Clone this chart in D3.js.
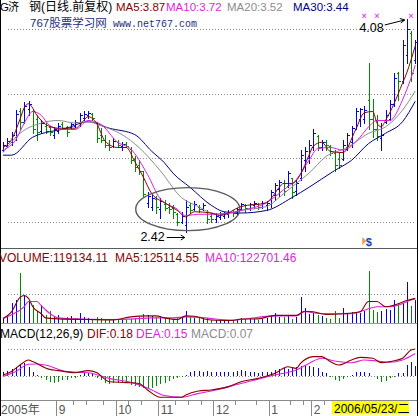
<!DOCTYPE html>
<html>
<head>
<meta charset="utf-8">
<script src="https://cdn.jsdelivr.net/npm/d3@7"></script>
<style>
  html, body { margin: 0; padding: 0; background: #fff; }
  svg { display: block; font-family: "Liberation Sans", Arial, "Noto Sans CJK SC", sans-serif; }
</style>
</head>
<body>
<svg id="chart" width="419" height="416"></svg>
<script>
// ---- daily bars: open / high / low / close ----
const opens  = [3.06,3.09,3.12,3.16,3.36,3.28,3.38,3.36,3.30,3.21,3.25,3.24,3.18,3.21,3.26,3.24,3.24,3.25,3.27,3.31,
                3.33,3.34,3.27,3.18,3.14,3.10,3.09,3.12,3.09,3.11,3.07,2.99,2.94,2.90,2.65,2.62,2.68,2.60,2.64,2.62,
                2.61,2.56,2.50,2.48,2.63,2.60,2.62,2.60,2.58,2.55,2.52,2.54,2.55,2.56,2.58,2.57,2.60,2.63,2.61,2.63,
                2.64,2.62,2.63,2.64,2.71,2.76,2.80,2.78,2.84,2.74,2.84,2.98,3.00,3.08,3.17,3.08,3.12,3.09,3.04,2.99,
                2.99,3.08,3.12,3.22,3.30,3.30,3.45,3.30,3.22,3.15,3.28,3.30,3.42,3.66,3.60,3.80,3.97,3.76];
const highs  = [3.12,3.15,3.20,3.37,3.39,3.43,3.44,3.37,3.33,3.29,3.27,3.25,3.24,3.27,3.28,3.25,3.27,3.29,3.35,3.36,
                3.36,3.35,3.28,3.23,3.18,3.14,3.15,3.14,3.12,3.12,3.08,3.01,2.98,2.90,2.73,2.71,2.70,2.69,2.67,2.65,
                2.63,2.57,2.58,2.67,2.65,2.66,2.63,2.65,2.59,2.57,2.57,2.58,2.58,2.59,2.59,2.61,2.65,2.64,2.65,2.66,
                2.65,2.66,2.66,2.75,2.80,2.83,2.83,2.90,2.84,2.83,3.06,3.08,3.14,3.22,3.18,3.14,3.14,3.10,3.06,3.04,
                3.14,3.19,3.25,3.39,3.39,3.40,3.74,3.46,3.33,3.27,3.37,3.45,3.66,3.67,3.92,4.08,3.99,3.92];
const lows   = [3.05,3.08,3.10,3.14,3.22,3.27,3.33,3.19,3.14,3.19,3.19,3.18,3.15,3.19,3.22,3.17,3.23,3.24,3.25,3.29,
                3.31,3.29,3.12,3.12,3.08,3.06,3.08,3.08,3.06,3.08,2.96,2.90,2.87,2.70,2.62,2.59,2.57,2.53,2.59,2.57,
                2.53,2.48,2.49,2.42,2.57,2.59,2.58,2.59,2.49,2.50,2.50,2.52,2.53,2.54,2.55,2.56,2.59,2.58,2.59,2.61,
                2.60,2.61,2.59,2.62,2.67,2.70,2.71,2.77,2.69,2.71,2.83,2.90,2.96,3.06,3.06,3.06,3.06,3.02,2.90,2.92,
                2.98,3.06,3.08,3.22,3.25,3.27,3.22,3.16,3.14,3.06,3.27,3.29,3.40,3.45,3.58,3.74,3.60,3.74];
const closes = [3.10,3.13,3.18,3.34,3.28,3.40,3.42,3.22,3.20,3.27,3.21,3.20,3.22,3.25,3.23,3.20,3.26,3.28,3.33,3.34,
                3.35,3.31,3.15,3.14,3.10,3.08,3.13,3.10,3.11,3.09,2.98,2.93,2.90,2.72,2.70,2.69,2.62,2.66,2.61,2.60,
                2.58,2.50,2.55,2.62,2.59,2.64,2.60,2.63,2.52,2.52,2.55,2.56,2.57,2.58,2.57,2.60,2.64,2.61,2.64,2.65,
                2.62,2.65,2.65,2.73,2.79,2.81,2.74,2.88,2.73,2.80,3.02,3.05,3.10,3.19,3.08,3.12,3.10,3.04,2.94,2.94,
                3.10,3.18,3.23,3.36,3.38,3.37,3.30,3.22,3.17,3.18,3.33,3.42,3.62,3.60,3.88,4.00,3.66,3.90];

// ---- daily volume ----
const volumes = [26000,41000,100000,119000,255000,140000,114000,93000,62000,93000,41000,62000,36000,41000,26000,31000,36000,26000,52000,31000,
                 26000,21000,31000,26000,21000,16000,16000,15000,16000,14000,21000,26000,31000,47000,41000,36000,31000,36000,26000,26000,
                 21000,26000,26000,62000,31000,26000,31000,26000,26000,16000,15000,16000,11000,15000,11000,16000,26000,21000,26000,21000,
                 16000,21000,26000,36000,52000,31000,31000,36000,21000,31000,130000,78000,47000,52000,41000,36000,26000,21000,62000,26000,
                 78000,47000,57000,57000,52000,62000,265000,67000,57000,62000,72000,67000,119000,104000,104000,207000,88000,119134.11];

// ---- moving averages of price: [bar index, value] ----
const ma5Pts  = [[0,3.08],[2,3.14],[4,3.30],[5,3.39],[6,3.42],[8,3.33],[10,3.26],[13,3.23],[17,3.23],[19,3.29],[20,3.32],[22,3.27],
                 [24,3.13],[27,3.08],[29,3.08],[31,2.97],[33,2.85],[35,2.72],[38,2.65],[41,2.59],[43,2.54],[45,2.58],[49,2.57],[51,2.55],
                 [56,2.62],[62,2.65],[63,2.68],[65,2.77],[66,2.80],[68,2.80],[70,2.87],[72,3.02],[73,3.09],[75,3.12],[77,3.05],[80,3.04],
                 [83,3.22],[85,3.35],[87,3.36],[88,3.27],[89,3.24],[90,3.29],[92,3.42],[94,3.58],[95,3.66],[96,3.76],[97,3.87]];
const ma10Pts = [[0,3.06],[3,3.14],[5,3.27],[7,3.36],[9,3.33],[11,3.25],[14,3.22],[17,3.22],[20,3.29],[23,3.26],[27,3.12],[30,3.07],
                 [34,2.87],[37,2.68],[41,2.60],[43,2.55],[46,2.56],[49,2.56],[53,2.57],[56,2.59],[62,2.65],[66,2.75],[69,2.83],[72,2.98],
                 [74,3.07],[77,3.08],[80,3.06],[84,3.16],[86,3.24],[88,3.29],[91,3.29],[94,3.45],[96,3.62],[97,3.72]];
const ma20Pts = [[0,3.04],[4,3.19],[9,3.27],[13,3.29],[17,3.27],[20,3.28],[23,3.25],[28,3.18],[32,3.08],[37,2.90],[42,2.69],[46,2.62],
                 [49,2.57],[52,2.56],[56,2.59],[62,2.62],[66,2.72],[69,2.80],[72,2.88],[76,3.01],[81,3.08],[86,3.19],[90,3.24],[94,3.37],[97,3.52]];
const ma30Pts = [[0,3.02],[2,3.02],[7,3.16],[15,3.23],[20,3.28],[25,3.23],[31,3.18],[35,3.05],[38,2.96],[40,2.88],[44,2.77],[49,2.63],
                 [52,2.58],[56,2.57],[62,2.59],[68,2.69],[72,2.77],[78,2.90],[82,2.98],[86,3.11],[90,3.19],[94,3.28],[97,3.44]];

// ---- moving averages of volume ----
const volMa5Pts  = [[0,23000],[2,57000],[4,130000],[5,140000],[6,125000],[7,83000],[9,47000],[10,26000],[13,21000],[20,18000],[26,16000],
                    [30,31000],[34,36000],[36,36000],[38,26000],[41,18000],[43,36000],[45,34000],[48,18000],[50,14000],[54,13000],[56,20000],
                    [60,21000],[64,39000],[69,39000],[71,60000],[73,57000],[76,44000],[80,47000],[84,57000],[86,109000],[88,109000],[90,83000],
                    [92,91000],[95,114000],[97,125114.55]];
const volMa10Pts = [[0,23000],[2,42000],[5,83000],[6,109000],[8,109000],[9,88000],[11,49000],[13,26000],[16,21000],[25,18000],[31,21000],
                    [35,26000],[40,26000],[43,31000],[47,28000],[50,20000],[54,15000],[56,18000],[64,36000],[69,36000],[71,57000],[75,47000],
                    [82,47000],[85,65000],[88,83000],[91,83000],[93,91000],[96,117000],[97,122701.46]];

// ---- MACD(12,26,9) ----
const difPts = [[0,0.007],[2,0.03],[4,0.073],[6,0.107],[7,0.096],[11,0.044],[13,0.036],[17,0.022],[20,0.036],[22,0.024],[25,-0.038],
                [29,-0.044],[32,-0.05],[34,-0.093],[37,-0.142],[42,-0.142],[43,-0.127],[46,-0.10],[49,-0.093],[53,-0.071],[56,-0.038],
                [60,-0.016],[64,0.018],[67,0.062],[69,0.051],[70,0.084],[73,0.129],[75,0.129],[77,0.096],[79,0.073],[82,0.107],[84,0.124],
                [87,0.118],[89,0.089],[91,0.096],[94,0.118],[96,0.173],[97,0.18]];
const deaPts = [[0,-0.004],[3,0.03],[6,0.078],[8,0.08],[10,0.073],[15,0.029],[20,0.022],[25,-0.016],[31,-0.049],[35,-0.093],[38,-0.13],
                [42,-0.142],[46,-0.116],[49,-0.10],[56,-0.05],[64,0.007],[69,0.04],[72,0.084],[75,0.118],[78,0.10],[82,0.088],[85,0.107],
                [88,0.10],[91,0.092],[94,0.107],[97,0.15]];
const macdBars = [0.030,0.036,0.050,0.062,0.073,0.084,0.062,0.029,0.007,-0.010,
                  -0.027,-0.038,-0.044,-0.038,-0.027,-0.027,-0.016,-0.012,0.010,0.018,
                  0.022,0.018,-0.010,-0.027,-0.044,-0.053,-0.049,-0.044,-0.038,-0.044,
                  -0.060,-0.067,-0.071,-0.078,-0.082,-0.078,-0.067,-0.056,-0.044,-0.031,
                  -0.022,-0.016,-0.009,0.007,0.029,0.036,0.036,0.029,0.036,0.024,
                  0.024,0.029,0.024,0.029,0.029,0.033,0.040,0.036,0.029,0.024,
                  0.022,0.024,0.024,0.029,0.040,0.044,0.051,0.044,0.051,0.058,
                  0.067,0.073,0.067,0.062,0.051,0.029,0.018,-0.009,-0.027,-0.031,
                  -0.022,-0.009,0.007,0.024,0.029,0.029,0.022,0.000,-0.022,-0.038,
                  -0.031,-0.016,-0.009,0.018,0.022,0.073,0.093,0.07];

// ---- reference levels and time axis ----
const priceLevels = [2.5, 3.0, 3.5, 4.0];
const volLevels = [150000];
const macdLevels = [0.18, 0];
const yearLabel = "2005年";
const monthTicks = [[12.5,"9"],[26.5,"10"],[36.5,"11"],[49.5,"12"],[62.5,"1"],[72.5,"2"]];
const weekTicks = [16.5,19.5,23.5,29.5,32.5,40.5,43.5,46.5,54.5,59.5,67.5,70.5,75.5];
const cursorDate = "2006/05/23/二";
const signalBars = [85, 88, 96];
const infoBar = 85;

// ---- drawing ----
const BLUE = "#0000ee", GREEN = "#008a00";
const C_MA5 = "#8b0000", C_MA10 = "#e01ee0", C_MA20 = "#8c8c8c", C_MA30 = "#000080";
const f2 = d3.format(".2f");
const svg = d3.select("#chart");
const N = closes.length;

const x = d3.scaleLinear().domain([0, N - 1]).range([3, 415.25]);
const yPrice = d3.scaleLinear().domain([2.5, 4.0]).range([222, 29.25]);
const yVol = d3.scaleLinear().domain([0, 150000]).range([323, 293.5]);
const yMacd = d3.scaleLinear().domain([0, 0.18]).range([376, 349]);
const sx = i => Math.round(x(i)) + 0.5;
const sy = v => Math.round(v) + 0.5;

svg.append("rect").attr("width", 419).attr("height", 416).attr("fill", "#fff");

// dotted reference lines
const grid = svg.append("g").attr("stroke", "#8a8a8a").attr("stroke-dasharray", "1,2").attr("shape-rendering", "crispEdges");
const hline = (g, y) => g.append("line").attr("x1", 8).attr("x2", 414).attr("y1", sy(y)).attr("y2", sy(y));
priceLevels.forEach(p => hline(grid, yPrice(p)));
volLevels.forEach(v => hline(grid, yVol(v)));
macdLevels.forEach(v => hline(grid, yMacd(v)));

// panel separators and frame
const frame = svg.append("g").attr("shape-rendering", "crispEdges");
frame.append("line").attr("x1", 0).attr("x2", 418).attr("y1", 248.5).attr("y2", 248.5).attr("stroke", "#5a5a5a");
frame.append("line").attr("x1", 0).attr("x2", 418).attr("y1", 323.5).attr("y2", 323.5).attr("stroke", "#9a9a9a");
frame.append("line").attr("x1", 0).attr("x2", 418).attr("y1", 400.5).attr("y2", 400.5).attr("stroke", "#8a8a8a");
frame.append("line").attr("x1", 0.5).attr("x2", 0.5).attr("y1", 0).attr("y2", 416).attr("stroke", "#000");
frame.append("line").attr("x1", 417.5).attr("x2", 417.5).attr("y1", 0).attr("y2", 416).attr("stroke", "#000");

// OHLC bars
svg.append("g").attr("fill", "none").attr("stroke-width", 1).attr("shape-rendering", "crispEdges")
  .selectAll("path").data(d3.range(N)).join("path")
  .attr("stroke", i => closes[i] >= opens[i] ? BLUE : GREEN)
  .attr("d", i => {
    const xx = sx(i), yo = sy(yPrice(opens[i])), yc = sy(yPrice(closes[i]));
    return `M${xx},${Math.round(yPrice(highs[i]))}V${Math.round(yPrice(lows[i])) + 1}` +
           `M${xx - 2},${yo}H${xx}M${xx},${yc}H${xx + 2}`;
  });

// price moving averages
const priceLine = d3.line().x(d => x(d[0])).y(d => yPrice(d[1])).curve(d3.curveMonotoneX);
[[ma30Pts, C_MA30], [ma20Pts, C_MA20], [ma10Pts, C_MA10], [ma5Pts, C_MA5]].forEach(([pts, c]) =>
  svg.append("path").attr("d", priceLine(pts)).attr("fill", "none").attr("stroke", c).attr("stroke-width", 1));

// volume bars
svg.append("g").attr("stroke-width", 1).attr("shape-rendering", "crispEdges")
  .selectAll("line").data(d3.range(N)).join("line")
  .attr("x1", sx).attr("x2", sx)
  .attr("y1", yVol(0)).attr("y2", i => Math.round(yVol(volumes[i])))
  .attr("stroke", i => closes[i] >= opens[i] ? BLUE : GREEN);

const volLine = d3.line().x(d => x(d[0])).y(d => yVol(d[1])).curve(d3.curveMonotoneX);
svg.append("path").attr("d", volLine(volMa10Pts)).attr("fill", "none").attr("stroke", C_MA10).attr("stroke-width", 1.1);
svg.append("path").attr("d", volLine(volMa5Pts)).attr("fill", "none").attr("stroke", C_MA5).attr("stroke-width", 1.1);

// MACD histogram and lines
svg.append("g").attr("stroke-width", 1).attr("shape-rendering", "crispEdges")
  .selectAll("line").data(d3.range(N)).join("line")
  .attr("x1", sx).attr("x2", sx)
  .attr("y1", yMacd(0)).attr("y2", i => Math.round(yMacd(macdBars[i])))
  .attr("stroke", i => macdBars[i] >= 0 ? BLUE : GREEN);

const macdLine = d3.line().x(d => x(d[0])).y(d => yMacd(d[1])).curve(d3.curveMonotoneX);
svg.append("path").attr("d", macdLine(deaPts)).attr("fill", "none").attr("stroke", C_MA10).attr("stroke-width", 1.1);
svg.append("path").attr("d", macdLine(difPts)).attr("fill", "none").attr("stroke", C_MA5).attr("stroke-width", 1.1);

// low / high annotations
const lowIdx = d3.minIndex(lows), highIdx = d3.maxIndex(highs);
const ann = svg.append("g").attr("fill", "none").attr("stroke", "#000").attr("stroke-width", 1);
{
  const lx = x(lowIdx), ly = yPrice(lows[lowIdx]);
  const ay = Math.round(ly + 4.5) + 0.5;
  ann.append("path").attr("d", `M${lx - 19},${ay}H${lx - 1}M${lx - 5},${ay - 2.5}L${lx - 1},${ay}L${lx - 5},${ay + 2.5}`);
  svg.append("text").attr("x", lx - 21).attr("y", ly + 8.5).attr("text-anchor", "end")
    .attr("font-size", 12.5).attr("fill", "#000").text(f2(lows[lowIdx]));

  const hx = x(highIdx), hy = yPrice(highs[highIdx]);
  ann.append("path").attr("d", `M${hx - 22},${hy + 6}L${hx - 2},${hy + 1}M${hx - 7},${hy - 0.5}L${hx - 2},${hy + 1}L${hx - 6},${hy + 4}`);
  svg.append("text").attr("x", hx - 23).attr("y", hy + 13).attr("text-anchor", "end")
    .attr("font-size", 12.5).attr("fill", "#000").text(f2(highs[highIdx]));
}

// selection ellipse round the bottom
svg.append("ellipse").attr("cx", x(lowIdx) + 2).attr("cy", yPrice(2.6)).attr("rx", 52).attr("ry", 21.5)
  .attr("fill", "none").attr("stroke", "#5c5c5c").attr("stroke-width", 1.4);

// signal marks along the top
svg.append("g").selectAll("text").data(signalBars).join("text")
  .attr("x", i => x(i)).attr("y", 19).attr("text-anchor", "middle")
  .attr("font-size", 8.5).attr("font-weight", "bold").attr("fill", "#f040f0").text("×");

// info icon under the price panel
{
  const ix = x(infoBar);
  svg.append("path").attr("d", `M${ix - 2},${237}L${ix + 2},${241}L${ix - 2},${245}Z`).attr("fill", "#f0a030");
  svg.append("text").attr("x", ix + 1.5).attr("y", 246).attr("font-size", 11).attr("font-weight", "bold")
    .attr("fill", "#2040c0").text("$");
}

// header rows
const label = (tx, ty, str, color, size, extra) => {
  const t = svg.append("text").attr("x", tx).attr("y", ty).attr("fill", color).attr("font-size", size).text(str);
  if (extra) extra(t);
  return t;
};
label(0, 11, "G", "#000", 11.5);
label(8, 11, "济", "#000", 11);
label(29, 11, "钢(日线.前复权)", "#000", 12);
label(116, 11, `MA5:${f2(ma5Pts[ma5Pts.length - 1][1])}`, C_MA5, 11.5);
label(166, 11, `MA10:${f2(ma10Pts[ma10Pts.length - 1][1])}`, C_MA10, 11.5);
label(227, 11, `MA20:${f2(ma20Pts[ma20Pts.length - 1][1])}`, C_MA20, 11.5);
label(293, 11, `MA30:${f2(ma30Pts[ma30Pts.length - 1][1])}`, C_MA30, 11.5);
label(30, 26.5, "767股票学习网", "#1e2e80", 11.5);
label(113, 26.5, "www.net767.com", "#1e2e80", 10, t => t.attr("font-family", "'Liberation Mono', 'DejaVu Sans Mono', monospace"));

label(-1, 262, `VOLUME:${f2(volumes[N - 1])}`, C_MA5, 12);
label(115, 262, `MA5:${f2(volMa5Pts[volMa5Pts.length - 1][1])}`, C_MA5, 12);
label(205, 262, `MA10:${f2(volMa10Pts[volMa10Pts.length - 1][1])}`, C_MA10, 12);

label(0, 338, "MACD(12,26,9)", "#000", 12);
label(87, 338, `DIF:${f2(difPts[difPts.length - 1][1])}`, C_MA5, 12);
label(136, 338, `DEA:${f2(deaPts[deaPts.length - 1][1])}`, C_MA10, 12);
label(191, 338, `MACD:${f2(macdBars[N - 1])}`, C_MA20, 12);

// time axis
const axisG = svg.append("g").attr("transform", "translate(0,400.5)");
const monthAxis = d3.axisBottom(x).tickValues(monthTicks.map(d => d[0]))
  .tickFormat((v, i) => monthTicks[i][1]).tickSize(16).tickSizeOuter(0);
const ma = axisG.append("g").call(monthAxis);
ma.select(".domain").remove();
ma.selectAll(".tick line").attr("stroke", "#8a8a8a").attr("shape-rendering", "crispEdges");
ma.selectAll(".tick text").attr("font-family", null).attr("font-size", 12).attr("fill", "#555")
  .attr("text-anchor", "start").attr("x", 2).attr("y", 13).attr("dy", null);
ma.attr("font-family", null);

const wa = axisG.append("g").call(d3.axisBottom(x).tickValues(weekTicks).tickFormat("").tickSize(4).tickSizeOuter(0));
wa.select(".domain").remove();
wa.selectAll(".tick line").attr("stroke", "#8a8a8a").attr("shape-rendering", "crispEdges");

svg.append("text").attr("x", 1).attr("y", 413.5).attr("font-size", 12).attr("fill", "#555").text(yearLabel);

// cursor date box
svg.append("rect").attr("x", 332).attr("y", 401).attr("width", 77).attr("height", 13.5).attr("fill", "#ffff00");
svg.append("text").attr("x", 334).attr("y", 413).attr("font-size", 12).attr("fill", "#000").text(cursorDate);
</script>
</body>
</html>
